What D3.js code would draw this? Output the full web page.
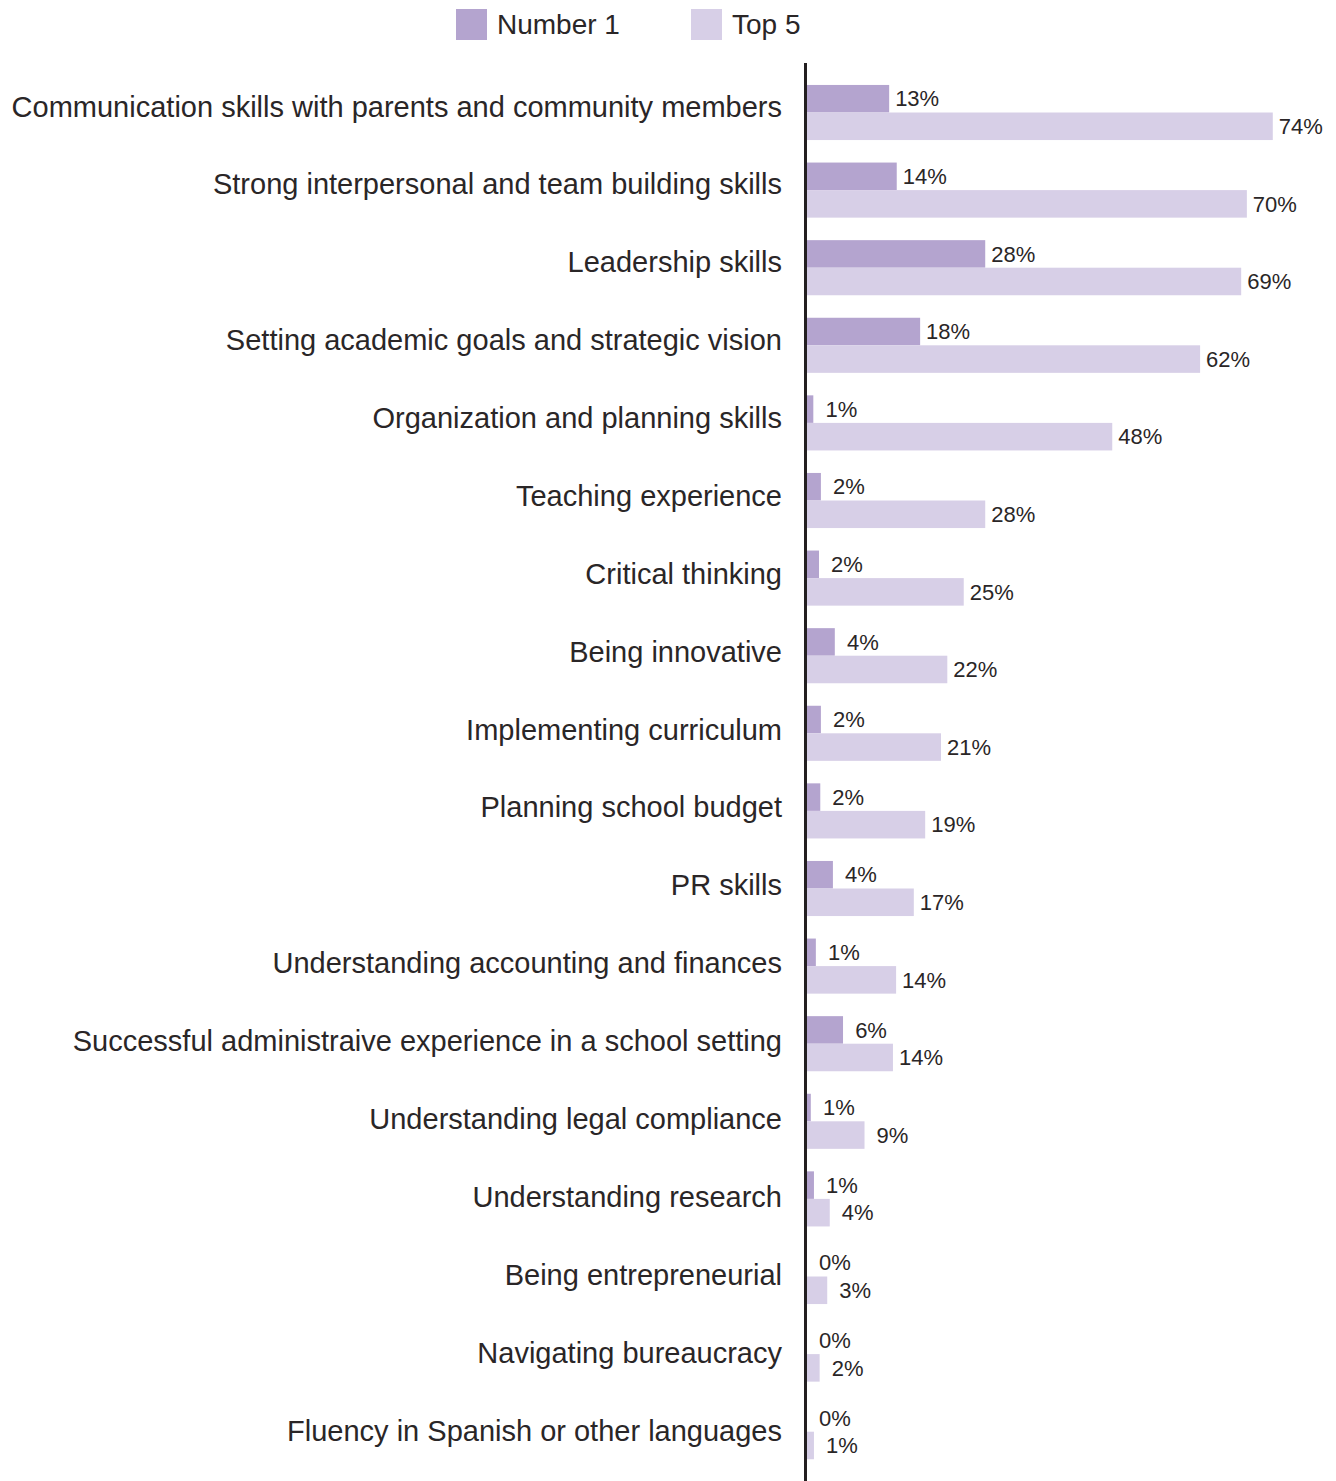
<!DOCTYPE html>
<html>
<head>
<meta charset="utf-8">
<script src="https://cdn.jsdelivr.net/npm/d3@7"></script>
<style>
  html, body { margin: 0; padding: 0; background: #fff; }
  svg { display: block; }
  text { font-family: "Liberation Sans", Arial, sans-serif; fill: #2a2627; }
</style>
</head>
<body>
<svg id="chart" width="1336" height="1481"></svg>
<script>
const categories = [
  "Communication skills with parents and community members",
  "Strong interpersonal and team building skills",
  "Leadership skills",
  "Setting academic goals and strategic vision",
  "Organization and planning skills",
  "Teaching experience",
  "Critical thinking",
  "Being innovative",
  "Implementing curriculum",
  "Planning school budget",
  "PR skills",
  "Understanding accounting and finances",
  "Successful administraive experience in a school setting",
  "Understanding legal compliance",
  "Understanding research",
  "Being entrepreneurial",
  "Navigating bureaucracy",
  "Fluency in Spanish or other languages"
];
const number1 = [13.0, 14.2, 28.2, 17.9, 1.0, 2.2, 1.9, 4.4, 2.2, 2.1, 4.1, 1.4, 5.7, 0.6, 1.1, 0, 0, 0];
const top5    = [73.7, 69.6, 68.7, 62.2, 48.3, 28.2, 24.8, 22.2, 21.2, 18.7, 16.9, 14.1, 13.6, 9.1, 3.6, 3.2, 2.0, 1.1];
const seriesNames = ["Number 1", "Top 5"];
const seriesColors = ["#b4a4cf", "#d7cfe7"];

const svg = d3.select("#chart");

const x = d3.scaleLinear().domain([0, 100]).range([807, 807 + 632]);
const y = d3.scaleBand().domain(categories).range([73.7, 1470.5]).paddingInner(0.29).paddingOuter(0.145);
const ySub = d3.scaleBand().domain(seriesNames).range([0, y.bandwidth()]);
// label positions (slightly different spacing in the original)
const yLab = d3.scalePoint().domain(categories).range([116, 1440]);

const rows = categories.map((c, i) => ({ cat: c, vals: [number1[i], top5[i]] }));

const g = svg.append("g");

const rowG = g.selectAll("g.row").data(rows).join("g")
  .attr("class", "row")
  .attr("transform", d => `translate(0,${y(d.cat)})`);

rowG.selectAll("rect").data(d => d.vals.map((v, k) => ({ v, k })))
  .join("rect")
  .attr("x", x(0))
  .attr("y", d => ySub(seriesNames[d.k]))
  .attr("width", d => x(d.v) - x(0))
  .attr("height", ySub.bandwidth())
  .attr("fill", d => seriesColors[d.k]);

rowG.selectAll("text.val").data(d => d.vals.map((v, k) => ({ v, k })))
  .join("text")
  .attr("class", "val")
  .attr("x", d => x(d.v) + 28)
  .attr("y", d => ySub(seriesNames[d.k]) + ySub.bandwidth() / 2)
  .attr("dy", "0.35em")
  .attr("text-anchor", "middle")
  .attr("font-size", 22)
  .text(d => Math.round(d.v) + "%");

// category labels via axis
const yAxis = d3.axisLeft(yLab).tickSize(0).tickPadding(0);
const axG = svg.append("g").attr("transform", `translate(782,0)`).call(yAxis);
axG.select(".domain").remove();
axG.selectAll("text")
  .attr("font-size", 29)
  .attr("font-family", "'Liberation Sans', Arial, sans-serif")
  .attr("fill", "#2a2627")
  .attr("dy", "0")
  .attr("dominant-baseline", "alphabetic");

// vertical baseline
svg.append("line")
  .attr("x1", x(0) - 1.5).attr("x2", x(0) - 1.5)
  .attr("y1", 63).attr("y2", 1481)
  .attr("stroke", "#231f20").attr("stroke-width", 3);

// legend
const legendX = [456, 691];
const leg = svg.append("g").selectAll("g").data(seriesNames).join("g")
  .attr("transform", (d, i) => `translate(${legendX[i]},9)`);
leg.append("rect").attr("width", 31).attr("height", 31).attr("fill", (d, i) => seriesColors[i]);
leg.append("text").attr("x", 41).attr("y", 25).attr("font-size", 28).text(d => d);
</script>
</body>
</html>
